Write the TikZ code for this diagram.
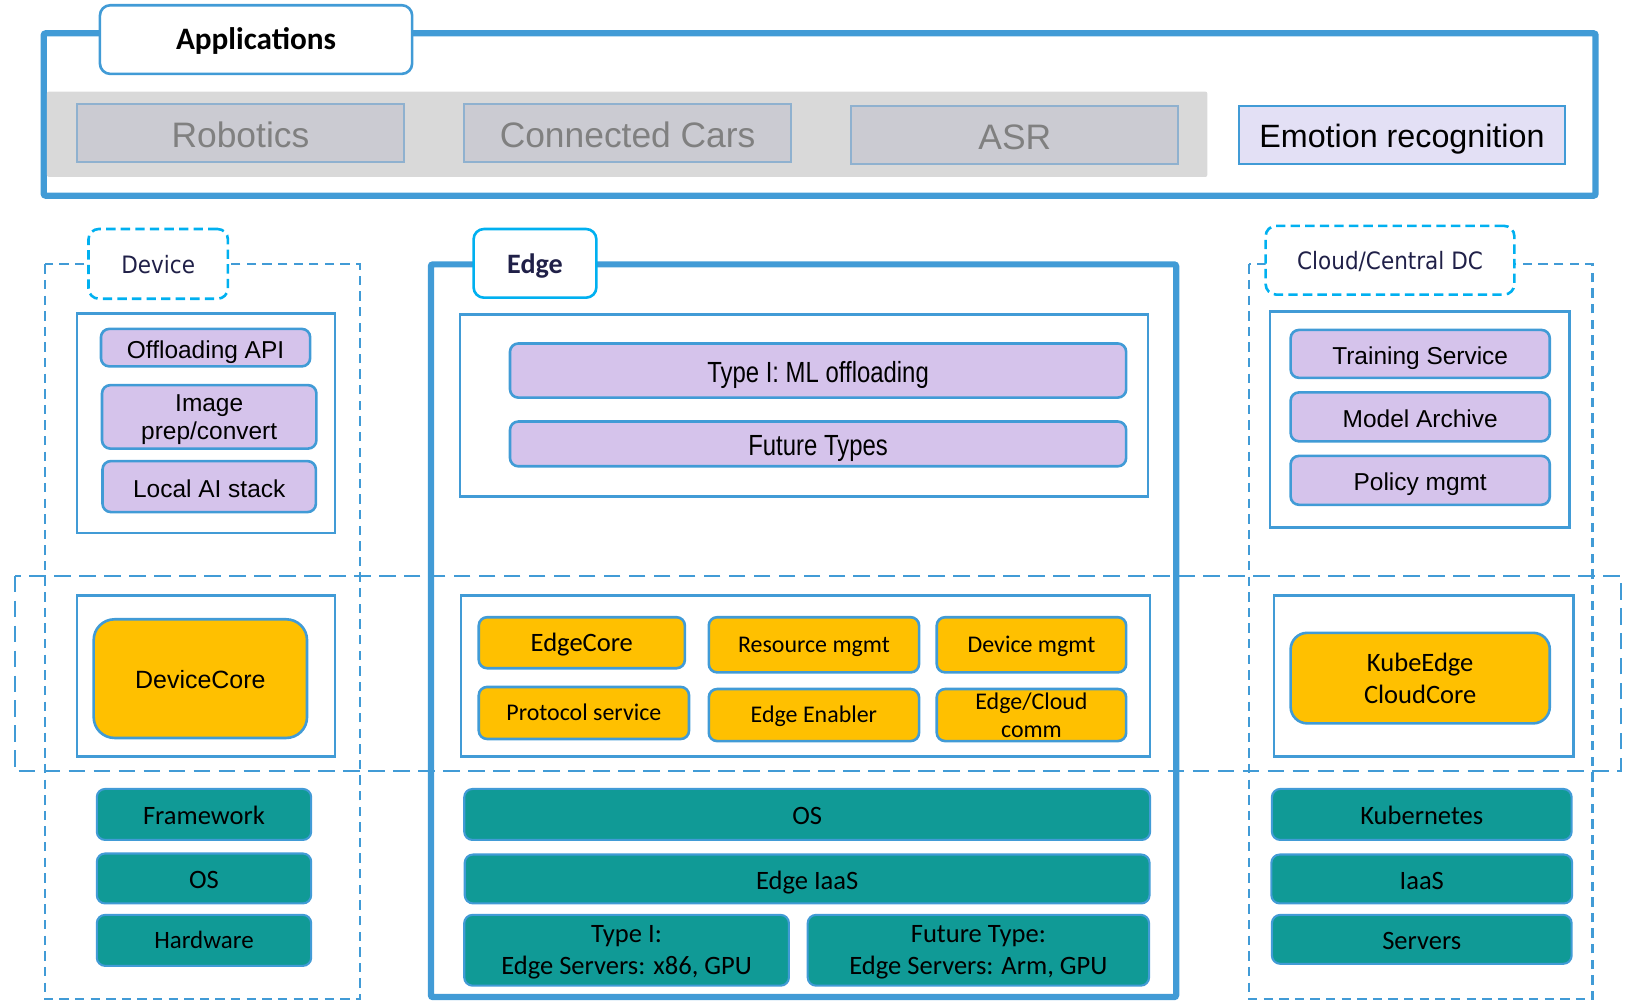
\documentclass[tikz,border=0pt]{standalone}
\usepackage{fontspec}
\setmainfont{Liberation Sans}
\newfontfamily\calibri{Carlito}
\newfontfamily\narrowfont[FakeStretch=0.82]{Liberation Sans}
\newfontfamily\tabfont[FakeStretch=0.9]{DejaVu Sans}
\usetikzlibrary{positioning}

\definecolor{lineblue}{RGB}{65,155,214}
\definecolor{tabcyan}{RGB}{0,176,240}
\definecolor{mlpurple}{RGB}{213,195,235}
\definecolor{coreorange}{RGB}{255,192,0}
\definecolor{infrateal}{RGB}{16,154,150}
\definecolor{bandgray}{RGB}{217,217,217}
\definecolor{appgray}{RGB}{203,203,210}
\definecolor{appedge}{RGB}{143,177,207}
\definecolor{apptext}{RGB}{128,128,128}
\definecolor{emofill}{RGB}{227,224,245}
\definecolor{tabnavy}{RGB}{32,32,72}

\tikzset{
  wh/.style 2 args={minimum width=#1pt, minimum height=#2pt},
  oneline/.style={text height=#1pt, text depth=0pt},
  multiline/.style={text height={}, text depth=0pt},
  bigframe/.style={draw=lineblue, line width=6pt, rounded corners=2pt},
  zoneline/.style={draw=lineblue, line width=2pt, dash pattern=on 9pt off 6pt},
  bandline/.style={draw=lineblue, line width=2pt, dash pattern=on 16pt off 8pt},
  panelline/.style={draw=lineblue, line width=2.5pt},
  titletab/.style={fill=white, line width=2.5pt, rounded corners=10pt, inner sep=0pt, outer sep=0pt},
  dashtab/.style={titletab, draw=tabcyan, dash pattern=on 9pt off 5pt, oneline=18,
    text=tabnavy, font=\tabfont\fontsize{23}{27}\selectfont},
  appbox/.style={draw=appedge, fill=appgray, line width=2pt, wh={314}{56}, oneline=28,
    inner sep=0pt, outer sep=0pt, text=apptext, font=\fontsize{34}{40}\selectfont},
  mlbox/.style={draw=lineblue, fill=mlpurple, line width=2.5pt, rounded corners=8pt, oneline=20,
    inner sep=0pt, outer sep=0pt, align=center, font=\fontsize{23.5}{27}\selectfont},
  corebox/.style={draw=lineblue, fill=coreorange, line width=2.5pt, rounded corners=8pt, oneline=15,
    inner sep=0pt, outer sep=0pt, align=center, font=\calibri\fontsize{23}{27}\selectfont},
  infrabox/.style={draw=lineblue, fill=infrateal, line width=2pt, rounded corners=8pt, oneline=19.5,
    inner sep=0pt, outer sep=0pt, align=center, font=\calibri\fontsize{25.5}{31}\selectfont},
}

\begin{document}
\begin{tikzpicture}[x=1pt, y=-1pt]
\useasboundingbox (0,0) rectangle (1568,962);

% applications
\draw[bigframe] (42,32) rectangle (1533,188);
\fill[bandgray, rounded corners=2pt] (45,88) rectangle (1160,170);
\node[titletab, draw=lineblue, wh={300}{66}, oneline=19.5, font=\calibri\bfseries\fontsize{30}{34}\selectfont] (apps) at (246,38) {Applications};
\node[appbox] (robotics) at (231,128) {Robotics};
\node[appbox, right=58pt of robotics] (cars) {Connected Cars};
\node[appbox, right=58pt of cars, yshift=-2pt] (asr) {ASR};
\node[appbox, right=58pt of asr, draw=lineblue, fill=emofill, text=black, oneline=24,
  font=\fontsize{31}{36}\selectfont] (emotion) {Emotion recognition};

% layers
\draw[zoneline] (43,254) rectangle (346,960);
\draw[zoneline] (1200,254) rectangle (1530,960);
\draw[bandline] (14,553) rectangle (1557,741);
\draw[bigframe] (414,254) rectangle (1130,958);

% device
\node[dashtab, wh={134}{67}] (devtab) at (152,253.5) {Device};
\draw[panelline] (74,301) rectangle (322,512);
\node[mlbox, wh={201}{36}] (offapi) at (197.5,334) {Offloading API};
\node[mlbox, multiline, wh={206}{61}, below=18pt of offapi, xshift=3.5pt] (imgprep) {Image\\prep/convert};
\node[mlbox, wh={205}{49}, below=12pt of imgprep] (localai) {Local AI stack};
\draw[panelline] (74,572) rectangle (322,727);
\node[corebox, wh={205}{114}, rounded corners=20pt, oneline=19, font=\fontsize{24}{28}\selectfont] (devcore) at (192.5,652) {DeviceCore};
\node[infrabox, wh={206}{49}] (framework) at (196,782.5) {Framework};
\node[infrabox, wh={206}{48}, below=13pt of framework] (devos) {OS};
\node[infrabox, wh={206}{49}, below=11pt of devos, oneline=16, font=\calibri\fontsize{24}{28}\selectfont] (hardware) {Hardware};

% edge
\node[titletab, draw=tabcyan, wh={118}{66}, text=tabnavy, oneline=19, font=\calibri\bfseries\fontsize{27}{30}\selectfont] (edgetab) at (514,253) {Edge};
\draw[panelline] (442,302) rectangle (1103,477);
\node[mlbox, wh={592}{52}, oneline=22.5, font=\narrowfont\fontsize{28}{32}\selectfont] (typeone) at (786,356) {Type I: ML offloading};
\node[mlbox, wh={592}{43}, below=23pt of typeone, oneline=22.5, font=\narrowfont\fontsize{28}{32}\selectfont] (futuretypes) {Future Types};
\draw[panelline] (443,572) rectangle (1105,727);
\node[corebox, wh={198}{49}, oneline=16.5, font=\calibri\fontsize{25.5}{30}\selectfont] (edgecore) at (559,617.5) {EdgeCore};
\node[corebox, wh={202}{53}] (resmgmt) at (782,619.5) {Resource mgmt};
\node[corebox, wh={182}{53}] (devmgmt) at (991,619.5) {Device mgmt};
\node[corebox, wh={202}{50}] (protocol) at (561,685) {Protocol service};
\node[corebox, wh={202}{50}, below=16pt of resmgmt] (enabler) {Edge Enabler};
\node[corebox, multiline, wh={182}{50}, below=16pt of devmgmt] (edgecloud) {Edge/Cloud\\comm};
\node[infrabox, wh={659}{49}] (edgeos) at (775.5,782.5) {OS};
\node[infrabox, wh={658}{47}, below=14pt of edgeos] (edgeiaas) {Edge IaaS};
\node[infrabox, multiline, wh={312}{68}] (typeserv) at (602,913) {Type I:\\Edge Servers: x86, GPU};
\node[infrabox, multiline, wh={328}{68}] (futureserv) at (940,913) {Future Type:\\Edge Servers: Arm, GPU};

% cloud
\node[dashtab, wh={239}{66}] (cloudtab) at (1335.5,250) {Cloud/Central DC};
\draw[panelline] (1220,299) rectangle (1508,507);
\node[mlbox, wh={249}{46}] (training) at (1364.5,340) {Training Service};
\node[mlbox, wh={249}{47}, below=14pt of training] (modelarch) {Model Archive};
\node[mlbox, wh={249}{47}, below=14pt of modelarch] (policy) {Policy mgmt};
\draw[panelline] (1224,572) rectangle (1512,727);
\node[corebox, multiline, wh={249}{87}, rounded corners=16pt, font=\calibri\fontsize{25.5}{31}\selectfont] (kubecore) at (1364.5,651.5) {KubeEdge\\CloudCore};
\node[infrabox, wh={288}{49}] (kubernetes) at (1366,782.5) {Kubernetes};
\node[infrabox, wh={289}{47}, below=14pt of kubernetes] (iaas) {IaaS};
\node[infrabox, wh={288}{47}, below=11pt of iaas] (servers) {Servers};
\end{tikzpicture}
\end{document}
